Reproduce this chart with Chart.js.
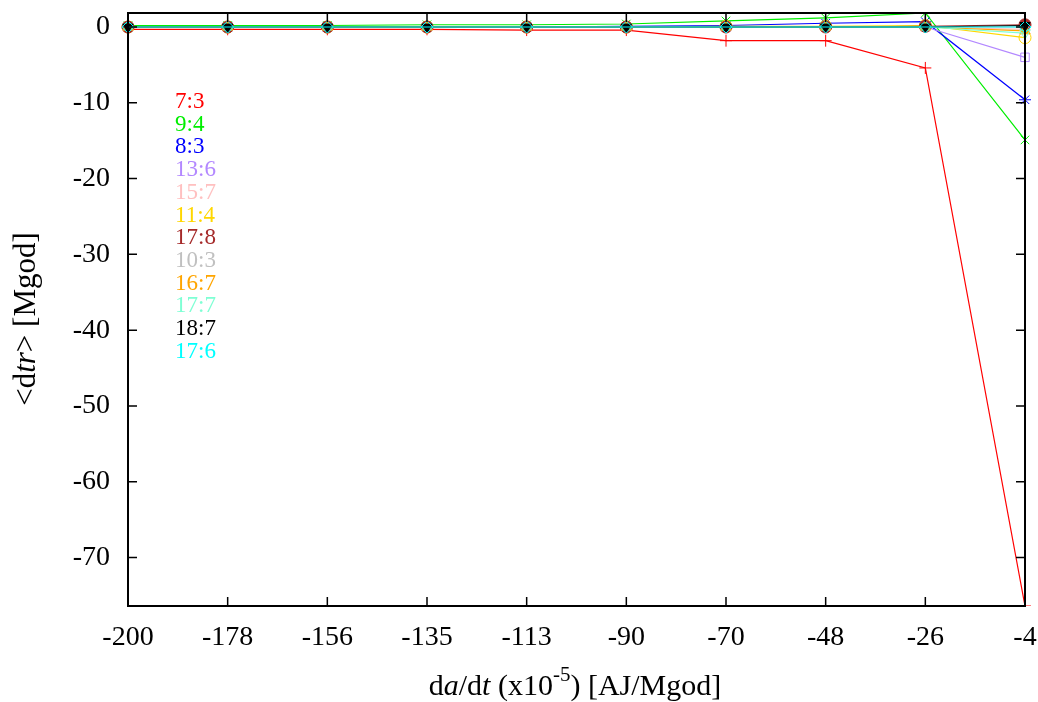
<!DOCTYPE html>
<html>
<head>
<meta charset="utf-8">
<script src="https://cdn.jsdelivr.net/npm/chart.js@4/dist/chart.umd.min.js"></script>
<style>
  html, body { margin: 0; padding: 0; background: #fff; }
  #wrap { width: 1038px; height: 702px; }
</style>
</head>
<body>
<div id="wrap"><canvas id="myChart" width="1038" height="702"></canvas></div>
<script>
// x categories (da/dt, x10^-5 AJ/Mgod)
const categories = ["-200", "-178", "-156", "-135", "-113", "-90", "-70", "-48", "-26", "-4"];
const yTicks = [0, -10, -20, -30, -40, -50, -60, -70];

// <dtr> values per resonance
const r7_3  = [-0.3, -0.3, -0.3, -0.3, -0.4, -0.4, -1.8, -1.8, -5.4, -76.4];
const r9_4  = [0.2, 0.2, 0.2, 0.3, 0.3, 0.4, 0.8, 1.2, 1.85, -14.9];
const r8_3  = [0, 0, 0, 0, 0, 0.1, 0.2, 0.5, 0.7, -9.6];
const r13_6 = [0, 0, 0, 0, 0, 0, 0, 0, 0, -4.0];
const r15_7 = [0, 0, 0, 0, 0, 0, 0, 0, 0, -0.3];
const r11_4 = [0, 0, 0, 0, 0, 0, 0.1, 0.1, 0.2, -1.4];
const r17_8 = [0, 0, 0, 0, 0, 0, 0, 0, 0.1, 0.3];
const r10_3 = [0, 0, 0, 0, 0, 0, 0, 0, 0, 0];
const r16_7 = [0, 0, 0, 0, 0, 0, 0, 0, 0, -0.5];
const r17_7 = [0, 0, 0, 0, 0, 0, 0, 0, 0, -0.8];
const r18_7 = [0, 0, 0, 0, 0, 0, 0, 0, 0, 0.2];
const r17_6 = [0, 0, 0, 0, 0, 0, 0, 0, 0, 0];

const series = [
  { label: "7:3",  data: r7_3,  color: "#ff0000", style: "cross" },
  { label: "9:4",  data: r9_4,  color: "#00ee00", style: "crossRot" },
  { label: "8:3",  data: r8_3,  color: "#0000ff", style: "star" },
  { label: "13:6", data: r13_6, color: "#b388ff", style: "rect", fill: false },
  { label: "15:7", data: r15_7, color: "#ffc0c0", style: "rect", fill: true },
  { label: "11:4", data: r11_4, color: "#ffd700", style: "circle", fill: false },
  { label: "17:8", data: r17_8, color: "#a52a2a", style: "circle", fill: true },
  { label: "10:3", data: r10_3, color: "#c0c0c0", style: "triangle", fill: false },
  { label: "16:7", data: r16_7, color: "#ffa500", style: "triangle", fill: true },
  { label: "17:7", data: r17_7, color: "#7fffd4", style: "triangle", fill: false, rot: 180 },
  { label: "18:7", data: r18_7, color: "#000000", style: "triangle", fill: true, rot: 180 },
  { label: "17:6", data: r17_6, color: "#00ffff", style: "rectRot", fill: false },
];

const SERIF = "'Liberation Serif', 'DejaVu Serif', serif";

// frame + inward ticks like gnuplot
const framePlugin = {
  id: "frame",
  afterDatasetsDraw(chart) {
    const { ctx, chartArea: a, scales } = chart;
    ctx.save();
    ctx.strokeStyle = "#000";
    ctx.lineWidth = 2;
    ctx.strokeRect(a.left, a.top, a.right - a.left, a.bottom - a.top);
    ctx.lineWidth = 1.5;
    const len = 9;
    ctx.beginPath();
    scales.x.ticks.forEach((t, i) => {
      const x = scales.x.getPixelForTick(i);
      ctx.moveTo(x, a.bottom); ctx.lineTo(x, a.bottom - len);
      ctx.moveTo(x, a.top); ctx.lineTo(x, a.top + len);
    });
    scales.y.ticks.forEach((t) => {
      const y = scales.y.getPixelForValue(t.value);
      ctx.moveTo(a.left, y); ctx.lineTo(a.left + len, y);
      ctx.moveTo(a.right, y); ctx.lineTo(a.right - len, y);
    });
    ctx.stroke();
    ctx.restore();
  },
};

// draws a run of [text, italic, superscript] pieces
function drawRich(ctx, parts, size) {
  const widths = parts.map(([t, it, sup]) => {
    ctx.font = (it ? "italic " : "") + (sup ? size * 0.7 : size) + "px " + SERIF;
    return ctx.measureText(t).width;
  });
  const total = widths.reduce((s, w) => s + w, 0);
  let x = -total / 2;
  parts.forEach(([t, it, sup], i) => {
    ctx.font = (it ? "italic " : "") + (sup ? size * 0.7 : size) + "px " + SERIF;
    ctx.fillText(t, x, sup ? -size * 0.4 : 0);
    x += widths[i];
  });
}

const textPlugin = {
  id: "texts",
  afterDraw(chart) {
    const { ctx, chartArea: a } = chart;
    ctx.save();
    ctx.fillStyle = "#000";
    ctx.textBaseline = "middle";
    ctx.textAlign = "left";
    // x title
    ctx.save();
    ctx.translate(575, 687);
    drawRich(ctx, [["d", false], ["a", true], ["/d", false], ["t", true], [" (x10", false], ["-5", false, true], [") [AJ/Mgod]", false]], 30);
    ctx.restore();
    // y title
    ctx.save();
    ctx.translate(27, 319);
    ctx.rotate(-Math.PI / 2);
    drawRich(ctx, [["<d", false], ["tr", true], ["> [Mgod]", false]], 31);
    ctx.restore();
    // legend as coloured text
    ctx.font = "23px " + SERIF;
    chart.data.datasets.forEach((ds, i) => {
      ctx.fillStyle = ds.borderColor;
      ctx.fillText(ds.label, 175, 102 + i * 22.7);
    });
    ctx.restore();
  },
};

const datasets = series.map((s, i) => ({
  label: s.label,
  data: s.data,
  borderColor: s.color,
  backgroundColor: s.fill ? s.color : "rgba(0,0,0,0)",
  pointBorderColor: s.color,
  pointBackgroundColor: s.fill ? s.color : "rgba(0,0,0,0)",
  pointStyle: s.style,
  pointRotation: s.rot || 0,
  pointRadius: 6,
  pointBorderWidth: 1,
  borderWidth: 1.2,
  tension: 0,
  order: series.length - i,
}));

const ctx = document.getElementById("myChart").getContext("2d");
const myChart = new Chart(ctx, {
  type: "line",
  data: { labels: categories, datasets: datasets },
  options: {
    responsive: false,
    animation: false,
    layout: { padding: { left: 0, right: 13, top: 13, bottom: 0 } },
    plugins: {
      legend: { display: false },
      tooltip: { enabled: false },
    },
    scales: {
      x: {
        type: "category",
        offset: false,
        grid: { display: false, drawTicks: false },
        border: { display: false },
        ticks: {
          color: "#000",
          font: { family: SERIF, size: 28 },
          padding: 15,
          maxRotation: 0,
          autoSkip: false,
        },
        afterFit(scale) {
          scale.height = 96;
          scale.paddingLeft = 0;
          scale.paddingRight = 0;
        },
      },
      y: {
        min: -76.4,
        max: 1.85,
        grid: { display: false, drawTicks: false },
        border: { display: false },
        afterBuildTicks(scale) { scale.ticks = yTicks.map((v) => ({ value: v })); },
        ticks: {
          color: "#000",
          font: { family: SERIF, size: 28 },
          padding: 18,
        },
        afterFit(scale) {
          scale.width = 128;
          scale.paddingTop = 0;
          scale.paddingBottom = 0;
        },
      },
    },
  },
  plugins: [framePlugin, textPlugin],
});
</script>
</body>
</html>
